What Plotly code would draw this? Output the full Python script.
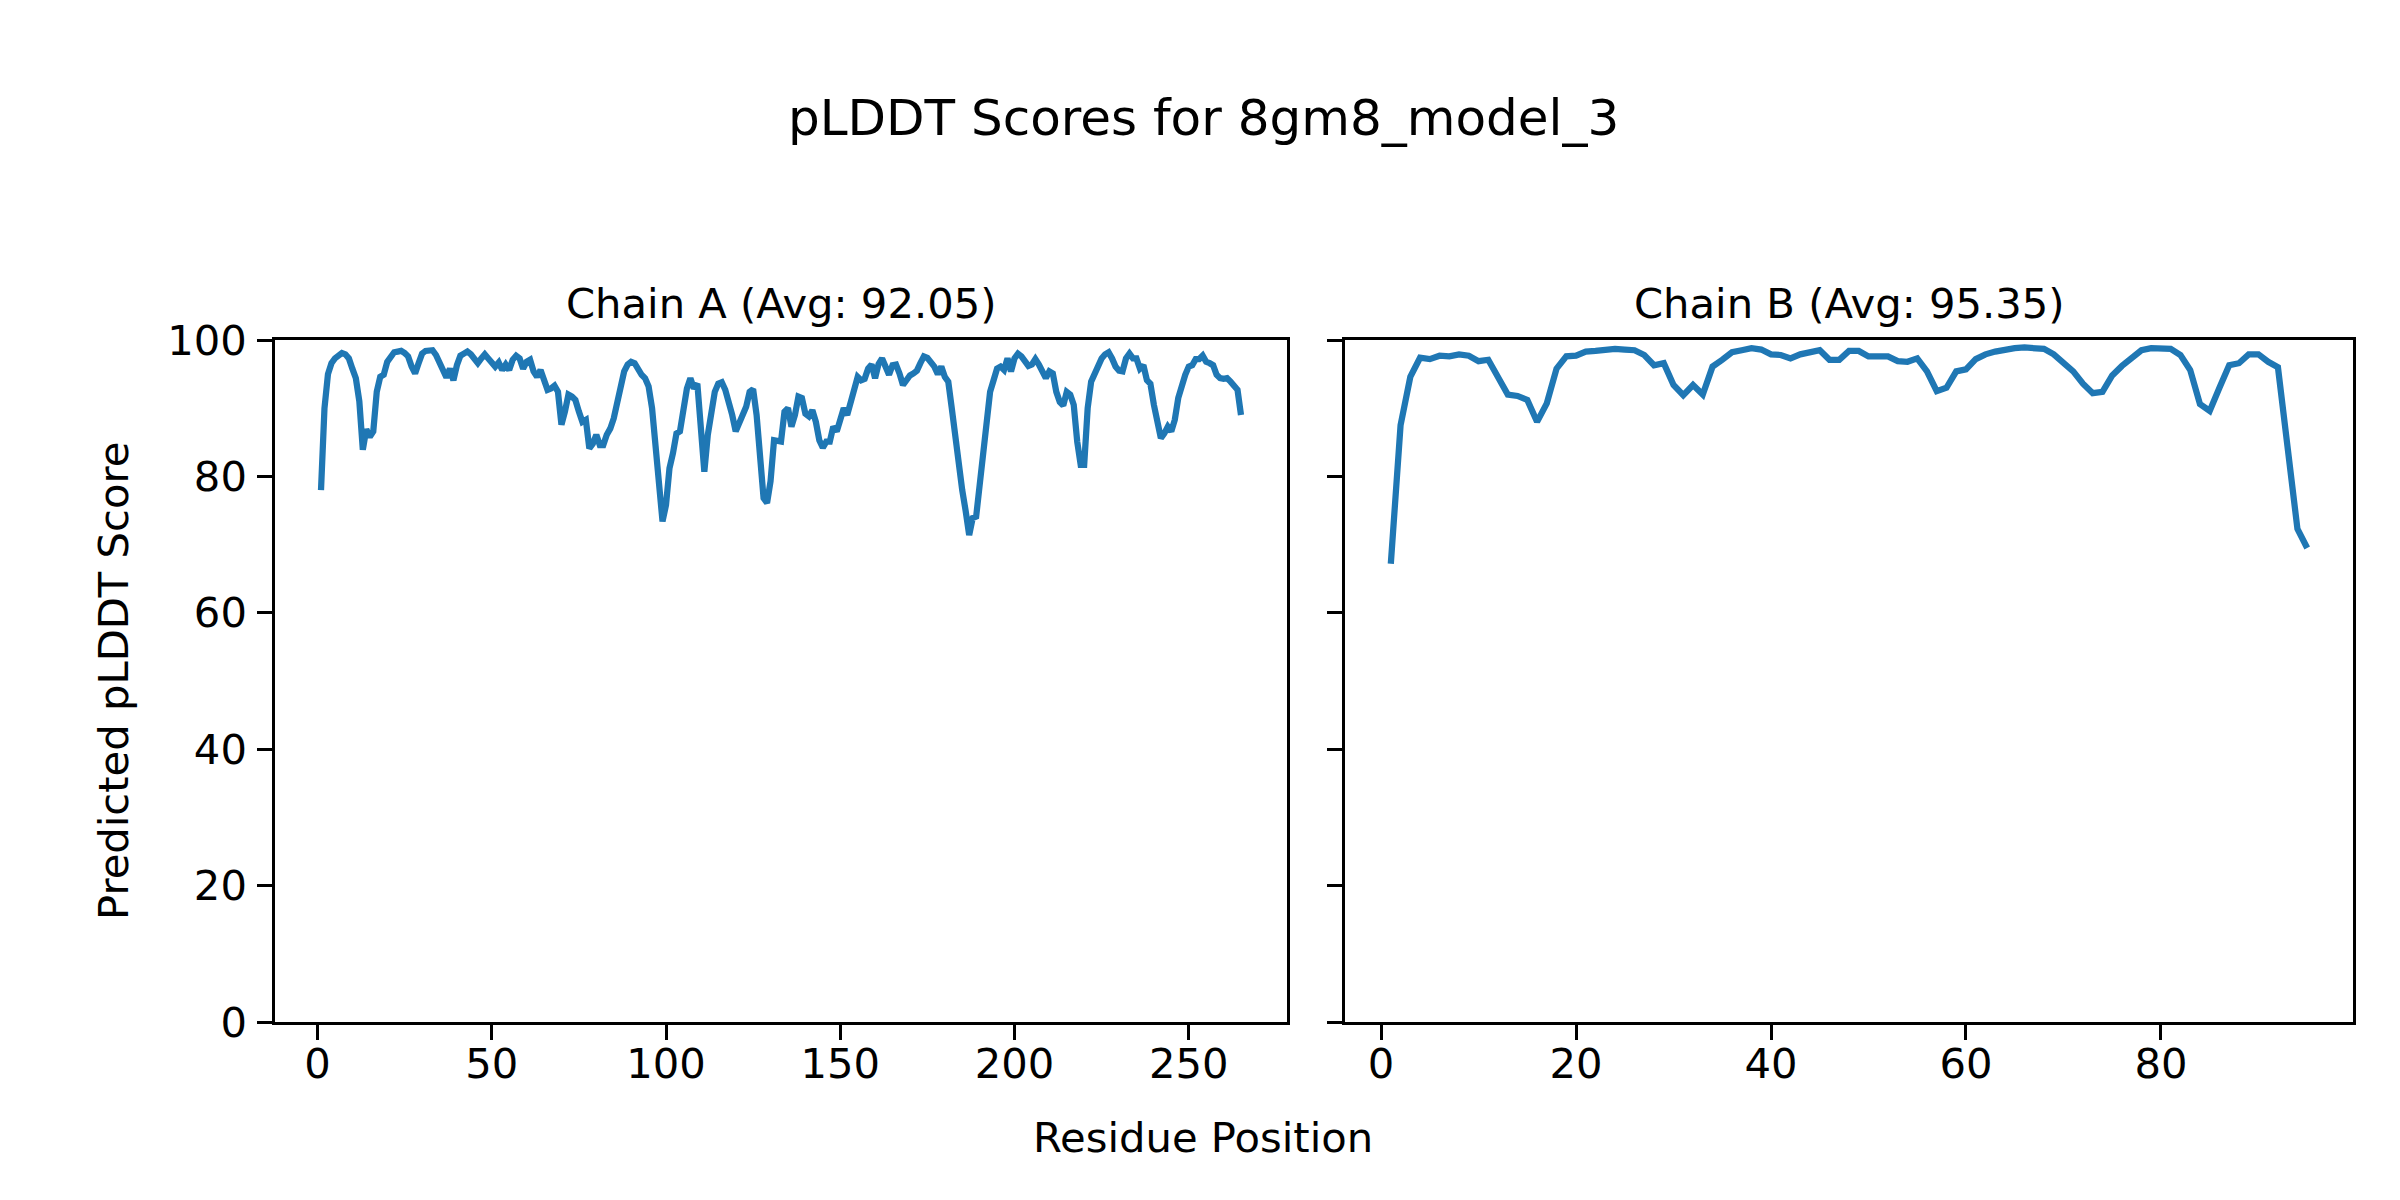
import plotly.graph_objects as go

chain_a_title = "Chain A (Avg: 92.05)"
chain_b_title = "Chain B (Avg: 95.35)"
main_title = "pLDDT Scores for 8gm8_model_3"
x_label = "Residue Position"
y_label = "Predicted pLDDT Score"

chain_a_scores = [
    78.0, 90.0, 95.0, 96.6, 97.3, 97.7, 98.1, 97.9, 97.3, 95.8,
    94.4, 91.0, 83.9, 86.9, 85.8, 86.6, 92.4, 94.6, 94.9, 96.8,
    97.4, 98.2, 98.3, 98.4, 98.1, 97.6, 96.1, 95.1, 96.6, 98.0,
    98.4, 98.5, 98.5, 97.8, 96.6, 95.4, 94.5, 95.8, 94.1, 96.3,
    97.7, 98.0, 98.3, 97.9, 97.3, 96.6, 97.3, 97.9, 97.3, 96.8,
    96.1, 96.7, 95.6, 96.4, 95.6, 97.1, 97.7, 97.3, 95.8, 96.8,
    97.1, 95.4, 94.6, 95.6, 94.4, 92.7, 92.9, 93.3, 92.4, 87.6,
    89.5, 92.0, 91.7, 91.2, 89.5, 88.0, 88.3, 84.1, 84.8, 86.1,
    84.6, 84.6, 86.1, 87.0, 88.5, 91.2, 93.6, 95.4, 96.4, 96.8,
    96.6, 95.5, 94.9, 94.4, 93.2, 90.0, 84.6, 78.7, 73.4, 75.8,
    81.2, 83.4, 86.3, 86.6, 90.0, 92.9, 94.4, 92.9, 93.6, 87.5,
    80.7, 86.1, 89.0, 92.4, 93.6, 93.8, 92.7, 91.0, 89.0, 86.6,
    88.0, 88.8, 90.2, 92.4, 92.8, 89.0, 81.7, 76.8, 76.1, 79.3,
    85.3, 85.1, 85.1, 89.5, 90.0, 87.3, 89.0, 91.7, 91.5, 89.2,
    88.8, 89.7, 88.0, 85.3, 84.2, 85.1, 85.1, 87.3, 86.6, 88.3,
    90.0, 89.0, 91.2, 93.4, 94.6, 94.1, 94.3, 95.8, 96.4, 94.4,
    96.5, 97.3, 96.1, 94.9, 96.3, 96.4, 95.1, 93.4, 94.1, 94.8,
    95.1, 95.5, 96.6, 97.6, 97.4, 96.8, 96.1, 95.0, 96.1, 94.6,
    93.9, 90.0, 85.6, 81.7, 78.0, 74.9, 71.4, 73.9, 74.1, 78.7,
    83.6, 88.0, 92.4, 94.1, 95.8, 96.1, 95.6, 97.3, 95.4, 97.3,
    98.0, 97.6, 96.8, 96.2, 96.4, 97.2, 96.4, 95.6, 94.4, 95.4,
    95.1, 92.4, 90.9, 90.4, 92.4, 92.0, 90.5, 85.1, 81.7, 81.7,
    90.0, 93.9, 95.1, 95.8, 97.3, 97.9, 98.2, 97.3, 96.1, 95.5,
    95.4, 97.3, 98.0, 97.3, 97.3, 95.8, 96.3, 94.1, 93.6, 90.5,
    87.6, 85.6, 86.3, 87.3, 86.6, 88.3, 91.5, 93.4, 94.9, 96.1,
    96.3, 97.2, 97.2, 97.7, 96.8, 96.6, 96.3, 94.9, 94.4, 94.3,
    94.4, 93.9, 93.2, 92.7, 89.0,
]

chain_b_scores = [
    67.2, 87.5, 94.6, 97.4, 97.2, 97.7, 97.6, 97.9, 97.7, 96.9,
    97.1, 94.6, 92.0, 91.8, 91.2, 88.0, 90.7, 95.8, 97.6, 97.7,
    98.3, 98.4, 98.6, 98.7, 98.6, 98.5, 97.8, 96.3, 96.6, 93.4,
    91.9, 93.4, 92.0, 96.1, 97.1, 98.2, 98.5, 98.8, 98.6, 97.9,
    97.8, 97.3, 97.9, 98.2, 98.5, 97.1, 97.1, 98.4, 98.4, 97.6,
    97.6, 97.6, 96.9, 96.8, 97.3, 95.4, 92.5, 93.0, 95.4, 95.7,
    97.2, 97.9, 98.3, 98.6, 98.8, 98.9, 98.9, 98.7, 97.9, 96.7,
    95.4, 93.6, 92.2, 92.4, 94.8, 96.2, 97.5, 98.5, 98.8, 98.8,
    98.7, 97.8, 95.6, 90.6, 89.6, 93.0, 96.3, 96.6, 97.9, 97.9,
    96.8, 96.0, 84.0, 72.3, 69.5,
]

chain_a_xticks = [0, 50, 100, 150, 200, 250]
chain_b_xticks = [0, 20, 40, 60, 80]
y_ticks = [0, 20, 40, 60, 80, 100]

chain_a_res = list(range(1, len(chain_a_scores) + 1))
chain_b_res = list(range(1, len(chain_b_scores) + 1))

W, H = 2400, 1200
OFF_X = 5  # page body offset compensation
OFF_Y = 8
FONT = "DejaVu Sans"
BLUE = "#1f77b4"
TICK_PX = 41.7
LW = 3.3


def fx(px):
    return (px - OFF_X) / W


def fy(py):
    return 1 - (py - OFF_Y) / H


xa_dom = [fx(272), fx(1284)]
xb_dom = [fx(1342), fx(2350)]
y_dom = [fy(1022), fy(340)]


def pad_range(n):
    span = n - 1
    return [1 - 0.05 * span, n + 0.05 * span]


fig = go.Figure()
fig.add_trace(go.Scatter(x=chain_a_res, y=chain_a_scores, mode="lines",
                         line=dict(color=BLUE, width=6.25), xaxis="x", yaxis="y",
                         showlegend=False))
fig.add_trace(go.Scatter(x=chain_b_res, y=chain_b_scores, mode="lines",
                         line=dict(color=BLUE, width=6.25), xaxis="x2", yaxis="y2",
                         showlegend=False))

axis_common = dict(showline=True, mirror=True, linecolor="black", linewidth=LW,
                   ticks="outside", ticklen=14.6, tickwidth=LW, tickcolor="black",
                   showgrid=False, zeroline=False, automargin=False,
                   tickfont=dict(family=FONT, size=TICK_PX, color="black"))

fig.update_layout(
    template="none",
    width=W, height=H,
    margin=dict(l=0, r=0, t=0, b=0, pad=0, autoexpand=False),
    paper_bgcolor="white", plot_bgcolor="white",
    font=dict(family=FONT, color="black"),
    xaxis=dict(domain=xa_dom, range=pad_range(len(chain_a_scores)),
               tickmode="array", tickvals=chain_a_xticks, anchor="y",
               ticklabelstandoff=-12, **axis_common),
    yaxis=dict(domain=y_dom, range=[0, 100], tickmode="array", tickvals=y_ticks,
               anchor="x", ticklabelstandoff=2, **axis_common),
    xaxis2=dict(domain=xb_dom, range=pad_range(len(chain_b_scores)),
                tickmode="array", tickvals=chain_b_xticks, anchor="y2",
                ticklabelstandoff=-12, **axis_common),
    yaxis2=dict(domain=y_dom, range=[0, 100], tickmode="array", tickvals=y_ticks,
                anchor="x2", showticklabels=False, **axis_common),
    annotations=[
        dict(text=main_title, x=fx(1200), y=fy(118), xref="paper", yref="paper",
             showarrow=False, xanchor="center", yanchor="middle",
             font=dict(family=FONT, size=50, color="black")),
        dict(text=chain_a_title, x=(xa_dom[0] + xa_dom[1]) / 2, y=fy(303),
             xref="paper", yref="paper", showarrow=False, xanchor="center",
             yanchor="middle", font=dict(family=FONT, size=41.7, color="black")),
        dict(text=chain_b_title, x=(xb_dom[0] + xb_dom[1]) / 2, y=fy(303),
             xref="paper", yref="paper", showarrow=False, xanchor="center",
             yanchor="middle", font=dict(family=FONT, size=41.7, color="black")),
        dict(text=x_label, x=fx(1200), y=fy(1137), xref="paper", yref="paper",
             showarrow=False, xanchor="center", yanchor="middle",
             font=dict(family=FONT, size=41.7, color="black")),
        dict(text=y_label, x=fx(110), y=fy(681), xref="paper", yref="paper",
             showarrow=False, xanchor="center", yanchor="middle", textangle=-90,
             font=dict(family=FONT, size=41.7, color="black")),
    ],
)

fig.write_html("out.html")
